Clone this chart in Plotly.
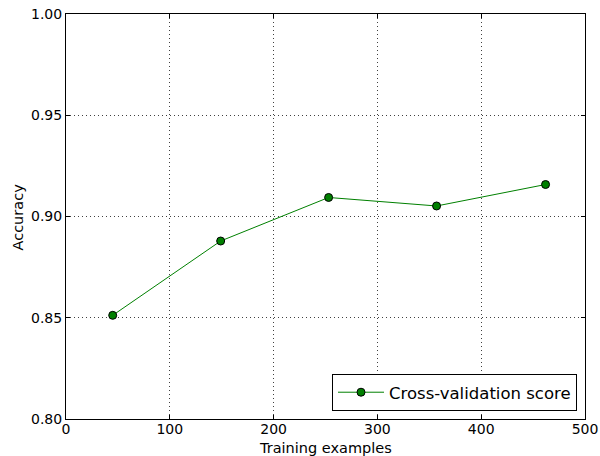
import plotly.graph_objects as go

train_sizes = [45, 149, 253, 357, 462]
cv_scores = [0.8512, 0.8879, 0.9094, 0.9052, 0.9158]
x_ticks = [0, 100, 200, 300, 400, 500]
y_ticks = [0.80, 0.85, 0.90, 0.95, 1.00]
y_tick_labels = ["0.80", "0.85", "0.90", "0.95", "1.00"]

fig = go.Figure()
fig.add_trace(go.Scatter(
    x=train_sizes, y=cv_scores, mode="lines+markers",
    name="Cross-validation score",
    line=dict(color="#008000", width=1),
    marker=dict(color="#008000", size=8, line=dict(color="black", width=1)),
))

axis_common = dict(
    showline=True, linecolor="black", linewidth=1, mirror="allticks",
    ticks="inside", ticklen=4, tickcolor="black",
    showgrid=True, gridcolor="rgba(0,0,0,0.75)", griddash="1px,3px", gridwidth=1,
    zeroline=False, tickfont=dict(size=14, color="black"),
    automargin=False,
)

fig.update_layout(
    width=600, height=456,
    margin=dict(l=66, r=15, t=14, b=37),
    paper_bgcolor="white", plot_bgcolor="white",
    font=dict(family="DejaVu Sans", color="black"),
    xaxis=dict(range=[0, 500], tickvals=x_ticks, ticklabelstandoff=-3, **axis_common),
    yaxis=dict(range=[0.80, 1.00], tickvals=y_ticks, ticktext=y_tick_labels,
               **axis_common),
    legend=dict(x=0.9846, y=0.0198, xanchor="right", yanchor="bottom",
                bordercolor="black", borderwidth=1, bgcolor="white",
                itemwidth=46, font=dict(size=16.5)),
    showlegend=True,
    annotations=[
        dict(text="Training examples", xref="paper", yref="paper",
             x=0.5, y=-0.071, xanchor="center", yanchor="middle",
             showarrow=False, font=dict(size=14.5, color="black")),
        dict(text="Accuracy", xref="paper", yref="paper",
             x=-0.0925, y=0.5, xanchor="center", yanchor="middle",
             textangle=-90, showarrow=False, font=dict(size=14.5, color="black")),
    ],
)

fig.write_html("out.html", config={"displayModeBar": False},
               post_script="document.body.style.margin='0px';document.body.style.overflow='hidden';")
